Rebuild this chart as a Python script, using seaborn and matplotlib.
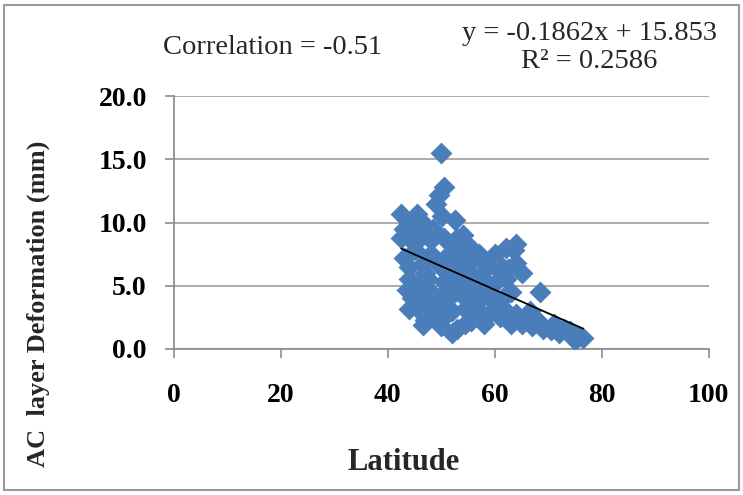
import matplotlib
matplotlib.use("Agg")
import matplotlib.pyplot as plt
import seaborn as sns
import pandas as pd
import numpy as np
from matplotlib.patches import Rectangle

latitude = [50.0, 50.5, 49.5, 49.0, 50.2, 52.5, 42.5, 45.5, 44.0, 47.0,
            43.0, 48.5, 54.0, 42.5, 44.5, 46.0, 50.5, 55.0, 57.0, 52.0,
            60.0, 62.0, 64.0, 63.5, 65.0, 64.0, 61.0, 58.5, 56.0, 53.5,
            48.0, 45.0, 43.0, 44.0, 46.5, 50.0, 52.0, 55.0, 57.5, 60.0,
            62.0, 63.0, 68.5, 59.0, 56.0, 53.0, 50.5, 47.5, 44.0, 43.5,
            44.5, 46.0, 48.0, 51.0, 54.0, 57.0, 60.0, 62.0, 64.0, 66.0,
            65.0, 67.0, 69.0, 70.5, 72.0, 74.0, 75.5, 76.5, 75.0, 73.0,
            71.0, 68.0, 63.0, 61.0, 58.0, 55.5, 53.0, 50.5, 48.5, 47.0,
            46.0, 49.0, 52.0, 54.5, 57.0, 59.5, 58.5, 51.0, 49.0, 47.0,
            45.5, 56.5, 52.5, 53.5, 58.0, 51.9, 46.5, 45.0, 48.0, 55.0,
            60.5, 49.5, 51.5, 53.0, 56.0, 66.5, 62.5, 44.0, 47.5, 50.0,
            54.5, 57.5, 61.5]
deformation = [15.5, 12.8, 12.2, 11.5, 10.5, 10.2, 10.7, 10.7, 10.0, 9.8,
               9.5, 9.5, 9.0, 8.8, 8.5, 8.8, 8.8, 8.2, 7.5, 8.2,
               7.5, 8.0, 8.3, 7.8, 6.0, 6.8, 6.2, 6.8, 7.0, 7.3,
               7.5, 7.8, 7.2, 6.5, 6.7, 6.5, 6.2, 6.0, 5.7, 5.2,
               5.5, 4.5, 4.5, 4.5, 4.8, 5.2, 5.3, 5.5, 5.5, 4.7,
               4.0, 4.2, 4.5, 4.0, 4.2, 3.8, 3.2, 3.0, 2.8, 2.5,
               2.0, 1.8, 1.6, 1.5, 1.3, 1.4, 1.0, 0.9, 0.7, 1.6,
               2.0, 2.2, 2.0, 2.5, 2.0, 2.2, 1.6, 2.5, 2.5, 2.3,
               3.0, 3.3, 3.0, 3.2, 3.0, 3.9, 2.6, 6.0, 7.0, 6.0,
               5.0, 5.2, 4.5, 6.7, 6.2, 1.3, 1.9, 9.3, 8.6, 7.6,
               6.8, 4.0, 7.5, 8.8, 3.5, 3.0, 6.3, 3.2, 3.5, 1.8,
               2.0, 4.5, 4.0]
fit_slope = [-0.1862]
fit_intercept = [15.853]
x_ticks = [0, 20, 40, 60, 80, 100]
y_ticks = [0.0, 5.0, 10.0, 15.0, 20.0]

df = pd.DataFrame({"Latitude": latitude, "Deformation": deformation})

sns.set_theme(style="white")
plt.rcParams["font.family"] = ["Liberation Serif", "DejaVu Serif"]

fig = plt.figure(figsize=(7.43, 4.95), dpi=100)
fig.patches.append(Rectangle((0.006, 0.01), 0.988, 0.98, transform=fig.transFigure,
                             fill=False, edgecolor="#9a9a9a", linewidth=1.5))
ax = fig.add_axes([0.234, 0.295, 0.72, 0.511])

sns.scatterplot(data=df, x="Latitude", y="Deformation", marker="D", s=125,
                color="#4A7EBB", edgecolor="#4A7EBB", linewidth=0, ax=ax, zorder=3)

xs = np.array([min(latitude), max(latitude)])
ax.plot(xs, fit_slope[0] * xs + fit_intercept[0], color="black", linewidth=1.3, zorder=4)

ax.set_xlim(0, 100)
ax.set_ylim(0, 20)
ax.set_xticks(x_ticks)
ax.set_yticks(y_ticks)
ax.set_xticklabels([str(t) for t in x_ticks], fontsize=20, fontweight="bold")
ax.set_yticklabels([f"{t:.1f}" for t in y_ticks], fontsize=20, fontweight="bold")
ax.yaxis.grid(True, color="#a6a6a6", linewidth=1.3)
ax.xaxis.grid(False)
for side in ["top", "right"]:
    ax.spines[side].set_visible(False)
ax.spines["left"].set_color("#8c8c8c")
ax.spines["bottom"].set_color("#8c8c8c")
ax.tick_params(axis="y", which="major", direction="out", length=6.5, color="#8c8c8c",
               width=1.2, left=True, pad=13, labelcolor="black")
ax.tick_params(axis="x", which="major", direction="out", length=6.5, color="#8c8c8c",
               width=1.2, bottom=True, pad=18, labelcolor="black")
ax.set_xlabel("Latitude", fontsize=22, fontweight="bold")
ax.set_ylabel("AC  layer Deformation (mm)", fontsize=19, fontweight="bold")
ax.xaxis.set_label_coords(0.429, -0.45)
ax.xaxis.label.set_va("center")
ax.yaxis.set_label_coords(-0.254, 0.18)
ax.yaxis.label.set_va("center")

fig.text(0.367, 0.905, "Correlation = -0.51", fontsize=20.5, ha="center", va="center")
fig.text(0.793, 0.933, "y = -0.1862x + 15.853", fontsize=20.5, ha="center", va="center")
fig.text(0.793, 0.875, "R² = 0.2586", fontsize=20.5, ha="center", va="center")

fig.savefig("out.png", dpi=100)
